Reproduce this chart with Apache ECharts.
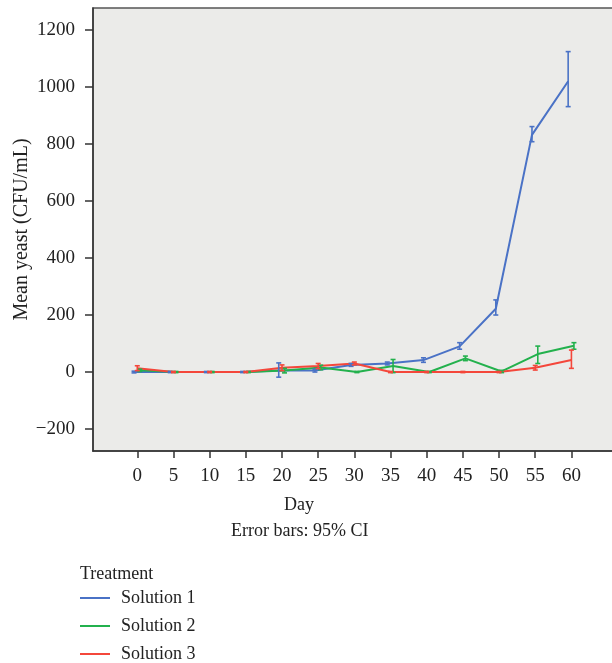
<!DOCTYPE html>
<html>
<head>
<meta charset="utf-8">
<script src="https://cdn.jsdelivr.net/npm/echarts@6/dist/echarts.min.js"></script>
<style>
  html, body { margin: 0; padding: 0; background: #fff; }
  #chart { width: 612px; height: 663px; }
</style>
</head>
<body>
<div id="chart"></div>
<script>
// days on the x axis
const days = [0, 5, 10, 15, 20, 25, 30, 35, 40, 45, 50, 55, 60]
const yTicks = [-200, 0, 200, 400, 600, 800, 1000, 1200]

// mean yeast (CFU/mL) and 95% CI bounds
const sol1Mean = [0, 0, 0, 0, 5, 5, 25, 30, 42, 90, 222, 832, 1020]
const sol1Low = [-3, -2, -2, -2, -18, 0, 20, 25, 34, 80, 200, 808, 931]
const sol1High = [3, 2, 2, 2, 32, 10, 30, 35, 50, 103, 253, 861, 1124]

const sol2Mean = [6, 0, 0, 0, 5, 16, 0, 21, 0, 48, 2, 63, 92]
const sol2Low = [2, -2, -2, -2, -3, 8, -2, -2, -2, 40, -2, 30, 80]
const sol2High = [10, 2, 2, 2, 13, 24, 2, 44, 2, 56, 6, 91, 103]

const sol3Mean = [13, 0, 0, 0, 15, 21, 30, 0, 0, 0, 0, 15, 42]
const sol3Low = [5, -2, -2, -2, 5, 12, 25, -2, -2, -2, -2, 7, 13]
const sol3High = [22, 2, 2, 2, 25, 30, 35, 2, 2, 2, 2, 23, 77]

const treatments = ['Solution 1', 'Solution 2', 'Solution 3']
const colors = ['#4a72c6', '#23b14d', '#f4473b']
// small horizontal dodge per treatment (in days), as in the original plot
const dodge = [-0.45, 0.35, 0]

const chart = echarts.init(document.getElementById('chart'))

const seriesData = [
  { mean: sol1Mean, low: sol1Low, high: sol1High },
  { mean: sol2Mean, low: sol2Low, high: sol2High },
  { mean: sol3Mean, low: sol3Low, high: sol3High }
]

const series = []
seriesData.forEach((s, i) => {
  series.push({
    name: treatments[i],
    type: 'line',
    data: days.map((d, j) => [d + dodge[i], s.mean[j]]),
    showSymbol: false,
    lineStyle: { color: colors[i], width: 2 },
    itemStyle: { color: colors[i] },
    z: 3
  })
  series.push({
    name: treatments[i] + ' CI',
    type: 'custom',
    data: days.map((d, j) => [d + dodge[i], s.low[j], s.high[j]]),
    renderItem: (params, api) => {
      const lo = api.coord([api.value(0), api.value(1)])
      const hi = api.coord([api.value(0), api.value(2)])
      const w = 2.5
      const style = { stroke: colors[i], lineWidth: 1.6 }
      return {
        type: 'group',
        children: [
          { type: 'line', shape: { x1: lo[0], y1: lo[1], x2: hi[0], y2: hi[1] }, style },
          { type: 'line', shape: { x1: lo[0] - w, y1: lo[1], x2: lo[0] + w, y2: lo[1] }, style },
          { type: 'line', shape: { x1: hi[0] - w, y1: hi[1], x2: hi[0] + w, y2: hi[1] }, style }
        ]
      }
    },
    z: 4
  })
})

const serif = '"Liberation Serif", "DejaVu Serif", serif'

chart.setOption({
  animation: false,
  textStyle: { fontFamily: serif },
  color: colors,
  grid: {
    left: 93,
    top: 8,
    right: -5,
    bottom: 212,
    outerBoundsMode: 'none',
    containLabel: false,
    show: true,
    backgroundColor: '#ebebe9',
    borderColor: '#555',
    borderWidth: 1.5
  },
  legend: {
    data: treatments,
    orient: 'vertical',
    left: 80,
    top: 589,
    padding: 0,
    icon: 'rect',
    itemWidth: 30,
    itemHeight: 2,
    itemGap: 10,
    textStyle: { fontFamily: serif, fontSize: 18, color: '#222', lineHeight: 18, padding: [0, 0, 0, 6] }
  },
  xAxis: {
    type: 'value',
    min: -6.12,
    max: 66.3,
    axisLine: { show: true, onZero: false, lineStyle: { color: '#333', width: 1.5 } },
    axisTick: { show: true, length: 7, customValues: days, lineStyle: { color: '#333', width: 1.5 } },
    axisLabel: { customValues: days, margin: 16, fontSize: 19, color: '#222', fontFamily: serif },
    splitLine: { show: false }
  },
  yAxis: {
    type: 'value',
    min: -277,
    max: 1277,
    name: 'Mean yeast (CFU/mL)',
    nameLocation: 'middle',
    nameGap: 61,
    nameMoveOverlap: false,
    nameTextStyle: { fontSize: 20, color: '#222', fontFamily: serif },
    axisLine: { show: true, onZero: false, lineStyle: { color: '#333', width: 1.5 } },
    axisTick: { show: true, length: 8, customValues: yTicks, lineStyle: { color: '#333', width: 1.5 } },
    axisLabel: {
      customValues: yTicks,
      margin: 18,
      fontSize: 19,
      color: '#222',
      fontFamily: serif,
      formatter: v => (v < 0 ? '\u2212' + Math.abs(v) : String(v))
    },
    splitLine: { show: false }
  },
  graphic: [
    {
      type: 'text',
      left: 284,
      top: 496,
      style: { text: 'Day', font: '18px ' + serif, fill: '#222' }
    },
    {
      type: 'text',
      left: 231,
      top: 522,
      style: { text: 'Error bars: 95% CI', font: '18px ' + serif, fill: '#222' }
    },
    {
      type: 'text',
      left: 80,
      top: 565,
      style: { text: 'Treatment', font: '18px ' + serif, fill: '#222' }
    }
  ],
  series
})
</script>
</body>
</html>
